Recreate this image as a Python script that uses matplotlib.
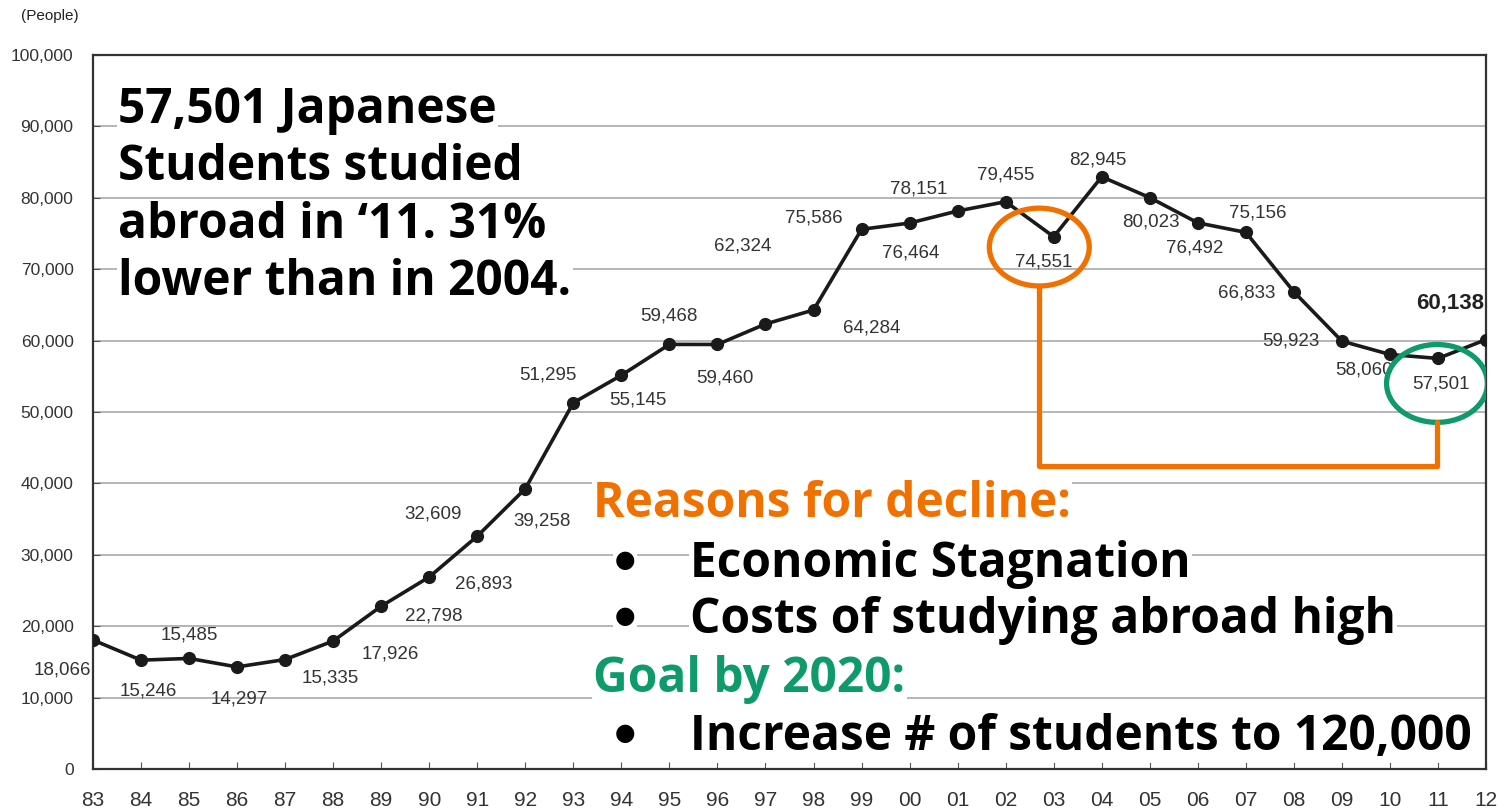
import matplotlib.pyplot as plt
from matplotlib.patches import Ellipse

# Japanese students studying abroad, 1983-2012
years = ['83', '84', '85', '86', '87', '88', '89', '90', '91', '92', '93', '94', '95', '96', '97',
         '98', '99', '00', '01', '02', '03', '04', '05', '06', '07', '08', '09', '10', '11', '12']
students = [18066, 15246, 15485, 14297, 15335, 17926, 22798, 26893, 32609, 39258, 51295, 55145,
            59468, 59460, 62324, 64284, 75586, 76464, 78151, 79455, 74551, 82945, 80023, 76492,
            75156, 66833, 59923, 58060, 57501, 60138]
y_ticks = [0, 10000, 20000, 30000, 40000, 50000, 60000, 70000, 80000, 90000, 100000]

# where each value label sits relative to its point (pixels)
label_offsets = [(-31, -30), (7, -31), (0, 23), (2, -32), (45, -18), (57, -13), (53, -10), (54, -7),
                 (-44, 22), (17, -32), (-25, 28), (17, -25), (-1, 28), (7, -34), (-23, 78),
                 (58, -18), (-48, 11), (1, -30), (-39, 22), (0, 27), (-10, -25), (-4, 17),
                 (1, -24), (-3, -25), (12, 19), (-47, -1), (-51, 0), (-26, -16), (3, -26), (-36, 37)]

narrow = ['Liberation Sans Narrow', 'Liberation Sans', 'DejaVu Sans']
W, H = 1499, 808

fig = plt.figure(figsize=(W / 100, H / 100), dpi=100)
ax = fig.add_axes([93 / W, 1 - 769 / H, (1486 - 93) / W, (769 - 55) / H])

x = list(range(len(years)))
ax.plot(x, students, color='#1a1a1a', lw=2.6, marker='o', markersize=8.5, zorder=3)

ax.set_xlim(0, len(years) - 1)
ax.set_ylim(0, 100000)
ax.set_xticks(x)
ax.set_xticklabels(years, family=narrow, fontsize=15, color='#333333')
ax.set_yticks(y_ticks)
ax.set_yticklabels([f'{v:,}' for v in y_ticks], family=narrow, fontsize=12.5, color='#333333')
ax.tick_params(direction='in', length=5, color='#555555')
ax.tick_params(axis='y', pad=14)
ax.tick_params(axis='x', pad=16)
ax.grid(axis='y', color='#b0b0b0', lw=1.3)
ax.set_axisbelow(True)
for s in ax.spines.values():
    s.set_color('#333333')
    s.set_linewidth(1.6)

for i, v in enumerate(students):
    last = i == len(students) - 1
    ax.annotate(f'{v:,}', (i, v), xytext=label_offsets[i], textcoords='offset pixels',
                ha='center', va='center', family=narrow,
                fontsize=16 if last else 13.5, fontweight='bold' if last else 'normal',
                color='#222222' if last else '#333333', annotation_clip=False, zorder=4)

fig.text(50 / W, 1 - 16 / H, '(People)', ha='center', va='center', family=narrow,
         fontsize=11, color='#222222')

# highlight 2003 dip and 2011 value
orange = '#F07000'
green = '#0E9A6A'
ax.add_patch(Ellipse((19.7, 73100), 2.08, 10900, fill=False, ec=orange, lw=3.8, zorder=5))
ax.add_patch(Ellipse((27.98, 54000), 2.1, 10900, fill=False, ec=green, lw=3.8, zorder=5))
ax.plot([19.7, 19.7, 27.98, 27.98], [67650, 42500, 42500, 48550], color=orange, lw=3.8,
        solid_joinstyle='round', solid_capstyle='round', zorder=5, clip_on=False)

box = dict(facecolor='white', edgecolor='none', pad=1)
big = dict(family='Open Sans', fontweight='bold', fontsize=34.5, va='baseline', ha='left', zorder=6)

summary = ['57,501 Japanese', 'Students studied', 'abroad in \u201811. 31%', 'lower than in 2004.']
for k, line in enumerate(summary):
    fig.text(118 / W, 1 - (123 + 57.3 * k) / H, line, color='black', bbox=box, **big)

fig.text(593 / W, 1 - 517 / H, 'Reasons for decline:', color=orange, bbox=box, **big)
fig.text(593 / W, 1 - 692 / H, 'Goal by 2020:', color=green, bbox=box, **big)
bullets = [(577, 'Economic Stagnation'), (633, 'Costs of studying abroad high'),
           (750, 'Increase # of students to 120,000')]
for yb, line in bullets:
    fig.text(625 / W, 1 - (yb - 17) / H, '\u25cf', color='black', fontsize=17, family='DejaVu Sans',
             va='center', ha='center', bbox=box, zorder=6)
    fig.text(690 / W, 1 - yb / H, line, color='black', bbox=box, **big)

fig.savefig('out.png', dpi=100)
